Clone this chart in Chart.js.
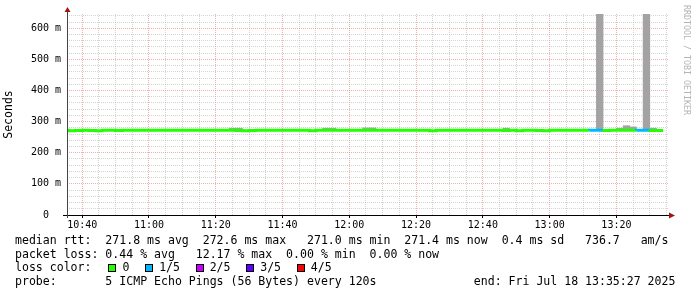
<!DOCTYPE html>
<html>
<head>
<meta charset="utf-8">
<script src="https://cdn.jsdelivr.net/npm/chart.js@4"></script>
<style>
  html, body { margin: 0; padding: 0; background: #fff; }
  #wrap { position: relative; width: 697px; height: 297px; overflow: hidden; }
  #rrd { position: absolute; left: 0; top: 0; }
  .txt {
    position: absolute; left: 15px;
    font-family: 'DejaVu Sans Mono', monospace; font-size: 11.56px;
    line-height: 13.7px; white-space: pre; color: #000;
  }
  #losscolor { display: flex; align-items: center; }
  .sq { display: inline-block; box-sizing: border-box; width: 8px; height: 8px; border: 1px solid #000; }
  #mark {
    position: absolute; left: 682px; top: 5px;
    writing-mode: vertical-rl;
    font-family: 'DejaVu Sans Mono', monospace; font-size: 8.3px; line-height: 10px;
    color: #b4b4b4; white-space: pre;
  }
</style>
</head>
<body>
<div id="wrap">
  <canvas id="rrd" width="697" height="297"></canvas>
  <div id="mark">RRDTOOL / TOBI OETIKER</div>
  <div class="txt" style="top:234px">median rtt:  271.8 ms avg  272.6 ms max   271.0 ms min  271.4 ms now  0.4 ms sd   736.7   am/s</div>
  <div class="txt" style="top:247.7px">packet loss: 0.44 % avg   12.17 % max  0.00 % min  0.00 % now</div>
  <div class="txt" id="losscolor" style="top:261.4px;height:13.7px"></div>
  <div class="txt" style="top:275.1px">probe:       5 ICMP Echo Pings (56 Bytes) every 120s              end: Fri Jul 18 13:35:27 2025</div>
</div>
<script>
// 2-minute steps (start of each step)
const stepStarts = [
  '10:34', '10:36', '10:38', '10:40', '10:42', '10:44', '10:46', '10:48', '10:50', '10:52', '10:54', '10:56', '10:58',
  '11:00', '11:02', '11:04', '11:06', '11:08', '11:10', '11:12', '11:14', '11:16', '11:18', '11:20', '11:22', '11:24',
  '11:26', '11:28', '11:30', '11:32', '11:34', '11:36', '11:38', '11:40', '11:42', '11:44', '11:46', '11:48', '11:50',
  '11:52', '11:54', '11:56', '11:58',
  '12:00', '12:02', '12:04', '12:06', '12:08', '12:10', '12:12', '12:14', '12:16', '12:18', '12:20', '12:22', '12:24',
  '12:26', '12:28', '12:30', '12:32', '12:34', '12:36', '12:38', '12:40', '12:42', '12:44', '12:46', '12:48', '12:50',
  '12:52', '12:54', '12:56', '12:58',
  '13:00', '13:02', '13:04', '13:06', '13:08', '13:10', '13:12', '13:14', '13:16', '13:18', '13:20', '13:22', '13:24',
  '13:26', '13:28', '13:30', '13:32'
];
// median rtt, ms
const medianRtt = [
  271.2, 272.1, 271.1, 271.3, 272.0, 271.2, 271.0, 272.2, 272.1, 271.3, 272.0, 272.2, 272.1,
  272.3, 272.0, 272.2, 272.1, 272.4, 272.2, 272.0, 272.1, 272.3, 272.2, 272.0, 272.1, 272.2,
  272.0, 271.2, 271.0, 271.3, 272.1, 272.2, 272.0, 272.3, 272.1, 272.2, 272.0, 272.1, 271.1,
  272.2, 272.3, 272.1, 272.0,
  272.2, 272.1, 272.6, 272.4, 272.2, 272.0, 272.1, 272.3, 272.2, 272.0, 272.1, 272.2, 272.0,
  271.0, 272.1, 272.2, 272.0, 272.3, 272.1, 272.2, 272.0, 272.1, 272.2, 272.3, 271.2, 272.1,
  271.1, 272.2, 272.0, 271.3,
  271.1, 272.0, 272.2, 272.1, 272.3, 272.0, 272.2, 272.4, 272.1, 271.3, 272.0, 272.3, 272.2,
  272.1, 272.3, 272.0, 271.4
];
// lost pings out of 5
const lossFifths = [
  0, 0, 0, 0, 0, 0, 0, 0, 0, 0, 0, 0, 0,
  0, 0, 0, 0, 0, 0, 0, 0, 0, 0, 0, 0, 0,
  0, 0, 0, 0, 0, 0, 0, 0, 0, 0, 0, 0, 0,
  0, 0, 0, 0,
  0, 0, 0, 0, 0, 0, 0, 0, 0, 0, 0, 0, 0,
  0, 0, 0, 0, 0, 0, 0, 0, 0, 0, 0, 0, 0,
  0, 0, 0, 0,
  0, 0, 0, 0, 0, 0, 1, 1, 0, 0, 0, 0, 0,
  1, 1, 0, 0
];
// top of the smoke (slowest ping), ms; null where it stays under the line
const smokeMax = [
  null, null, null, null, null, null, null, null, null, null, null, null, null,
  null, null, null, null, null, null, null, null, null, null, null, null, 279,
  279, null, null, null, null, null, null, null, null, null, null, null, null,
  279, 279, null, null,
  null, null, 280, 280, null, null, null, null, null, null, null, null, null,
  null, null, null, null, null, null, null, null, null, null, 279, null, null,
  null, null, null, null,
  null, null, null, null, null, null, null, 720, null, null, 279, 287, 283,
  null, 700, 279, null
];
const xLabelTimes = ['10:40', '11:00', '11:20', '11:40', '12:00', '12:20', '12:40', '13:00', '13:20'];
const yLabelValues = [0, 100, 200, 300, 400, 500, 600];
const lossLabels = ['0', '1/5', '2/5', '3/5', '4/5'];
const lossColors = ['#22ff00', '#00b8ff', '#c800ff', '#5e00ff', '#ff0000'];
const endTime = '13:35:27';
const spanMinutes = 180;
const stepMinutes = 2;
const yMax = 646;

const MONO = "'DejaVu Sans Mono', monospace";
const toMin = s => {
  const p = s.split(':').map(Number);
  return (p[0] - 10) * 60 + p[1] + (p[2] || 0) / 60;
};
const xEnd = toMin(endTime);
const xStart = xEnd - spanMinutes;
const xLabelMins = xLabelTimes.map(toMin);

// loss colour legend line
const lc = document.getElementById('losscolor');
lc.appendChild(document.createTextNode('loss color:'));
lossLabels.forEach((lab, i) => {
  const sq = document.createElement('span');
  sq.className = 'sq';
  sq.style.background = lossColors[i];
  sq.style.marginLeft = i === 0 ? '17px' : '15.7px';
  const t = document.createElement('span');
  t.textContent = lab;
  t.style.marginLeft = '6px';
  lc.appendChild(sq);
  lc.appendChild(t);
});

const lineData = stepStarts.map((s, i) => ({ x: toMin(s), y: medianRtt[i] }));
const last = stepStarts.length - 1;
lineData.push({ x: toMin(stepStarts[last]) + stepMinutes, y: medianRtt[last] });

const smokeData = stepStarts.map((s, i) => ({
  x: toMin(s) + stepMinutes / 2,
  y: smokeMax[i] == null ? null : [medianRtt[i], smokeMax[i]]
}));

const MAJOR = 'rgba(225, 110, 110, 0.55)';
const MINOR = 'rgba(170, 170, 170, 0.5)';

const axes = {
  id: 'axes',
  afterDraw(chart) {
    const { ctx, chartArea: a } = chart;
    ctx.save();
    ctx.strokeStyle = '#000';
    ctx.lineWidth = 1;
    ctx.beginPath();
    ctx.moveTo(a.left - 4, a.bottom + 0.5);
    ctx.lineTo(a.right + 1, a.bottom + 0.5);
    ctx.stroke();
    ctx.strokeStyle = '#444';
    ctx.beginPath();
    ctx.moveTo(a.left + 0.5, a.bottom + 3);
    ctx.lineTo(a.left + 0.5, a.top - 2);
    ctx.stroke();
    ctx.fillStyle = '#a01414';
    ctx.beginPath();
    ctx.moveTo(a.right + 1, a.bottom - 2.5);
    ctx.lineTo(a.right + 7, a.bottom + 0.5);
    ctx.lineTo(a.right + 1, a.bottom + 3.5);
    ctx.closePath();
    ctx.fill();
    ctx.beginPath();
    ctx.moveTo(a.left - 2.5, a.top - 2);
    ctx.lineTo(a.left + 0.5, a.top - 7);
    ctx.lineTo(a.left + 3.5, a.top - 2);
    ctx.closePath();
    ctx.fill();
    ctx.restore();
  }
};

new Chart(document.getElementById('rrd'), {
  type: 'bar',
  data: {
    datasets: [{
      type: 'line',
      data: lineData,
      stepped: 'after',
      borderWidth: 3,
      borderCapStyle: 'butt',
      borderColor: lossColors[0],
      segment: { borderColor: c => lossColors[lossFifths[c.p0DataIndex]] },
      pointRadius: 0,
      clip: 0,
      order: 1
    }, {
      type: 'bar',
      data: smokeData,
      backgroundColor: '#a3a3a3',
      borderWidth: 0,
      barPercentage: 1,
      categoryPercentage: 1,
      grouped: false,
      order: 2
    }]
  },
  options: {
    responsive: false,
    animation: false,
    events: [],
    layout: { padding: { left: 0, right: 29, top: 14, bottom: 0 } },
    plugins: { legend: { display: false }, tooltip: { enabled: false } },
    scales: {
      x: {
        type: 'linear',
        min: xStart,
        max: xEnd,
        offset: false,
        afterBuildTicks: s => {
          const t = [];
          for (let m = Math.ceil(xStart / 5) * 5; m <= xEnd; m += 5) t.push({ value: m });
          s.ticks = t;
        },
        afterFit: s => { s.height = 82; },
        grid: {
          offset: false,
          color: c => (xLabelMins.includes(c.tick.value) ? MAJOR : MINOR),
          tickColor: c => (xLabelMins.includes(c.tick.value) ? '#000' : 'rgba(0,0,0,0)'),
          tickLength: 3
        },
        border: { display: false, dash: [1, 1] },
        ticks: {
          autoSkip: false,
          maxRotation: 0,
          padding: 1,
          color: '#000',
          font: { family: MONO, size: 10 },
          callback: v => {
            const k = xLabelMins.indexOf(v);
            return k >= 0 ? xLabelTimes[k] : '';
          }
        }
      },
      y: {
        min: 0,
        max: yMax,
        afterBuildTicks: s => {
          const t = [];
          for (let v = 0; v <= yMax; v += 20) t.push({ value: v });
          s.ticks = t;
        },
        afterFit: s => { s.width = 67; },
        grid: {
          drawTicks: false,
          color: c => (yLabelValues.includes(c.tick.value) ? MAJOR : MINOR)
        },
        border: { display: false, dash: [1, 1] },
        ticks: {
          autoSkip: false,
          padding: 6,
          color: '#000',
          font: { family: MONO, size: 10 },
          callback: v => (yLabelValues.includes(v) ? (v === 0 ? '0  ' : v + ' m') : '')
        },
        title: {
          display: true,
          text: 'Seconds',
          color: '#000',
          font: { family: MONO, size: 11.5 },
          padding: { top: 2, bottom: 0 }
        }
      }
    }
  },
  plugins: [axes]
});
</script>
</body>
</html>
